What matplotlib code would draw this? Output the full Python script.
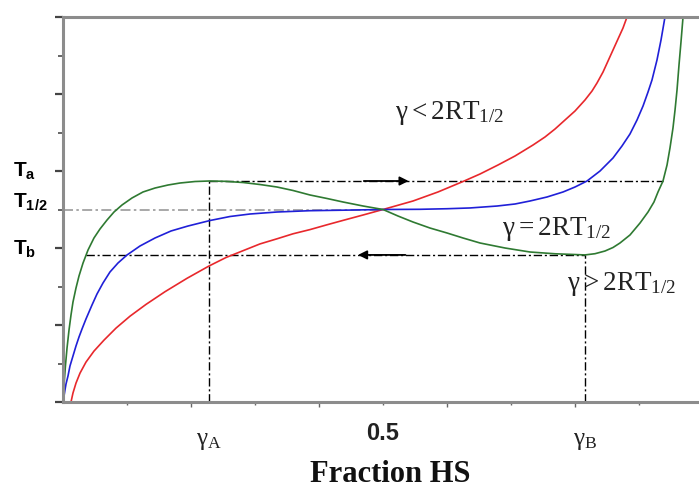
import numpy as np
import matplotlib.pyplot as plt

plt.rcParams['mathtext.fontset'] = 'custom'
plt.rcParams['mathtext.rm'] = 'Liberation Serif'
plt.rcParams['mathtext.it'] = 'Liberation Serif'
plt.rcParams['mathtext.sf'] = 'Liberation Sans:bold'

# fraction HS vs temperature (arbitrary units, T_1/2 = 5)
frac_red = [0.0125, 0.0156, 0.0203, 0.0266, 0.0359, 0.0484, 0.0641, 0.0828, 0.1047, 0.1297,
            0.1594, 0.1938, 0.2281, 0.2547, 0.2813, 0.3078, 0.3344, 0.3594, 0.3859, 0.4125,
            0.4375, 0.4688, 0.5, 0.5469, 0.5859, 0.625, 0.6516, 0.6797, 0.7063, 0.7344,
            0.7531, 0.7688, 0.7844, 0.8, 0.8156, 0.8266, 0.8344, 0.8438, 0.8516, 0.8594,
            0.8672, 0.875, 0.8813]
temp_red = [0.0, 0.234, 0.491, 0.751, 1.036, 1.322, 1.608, 1.919, 2.229, 2.535,
            2.865, 3.213, 3.532, 3.753, 3.93, 4.106, 4.239, 4.369, 4.478, 4.603,
            4.717, 4.857, 5.0, 5.221, 5.455, 5.727, 5.922, 6.156, 6.39, 6.675,
            6.883, 7.091, 7.325, 7.558, 7.844, 8.078, 8.286, 8.571, 8.857, 9.143,
            9.429, 9.714, 10.0]

frac_blue = [0.0, 0.0016, 0.0031, 0.0047, 0.0078, 0.0109, 0.0156, 0.0203, 0.025, 0.0297,
             0.0359, 0.0453, 0.0531, 0.0625, 0.0734, 0.0859, 0.1, 0.1203, 0.1438, 0.1688,
             0.1953, 0.2297, 0.2609, 0.2922, 0.3344, 0.3859, 0.4484, 0.5, 0.5578, 0.6,
             0.6359, 0.6781, 0.7063, 0.7297, 0.7563, 0.7813, 0.8, 0.8188, 0.8391, 0.8594,
             0.8734, 0.8859, 0.8969, 0.9063, 0.9141, 0.9203, 0.9281, 0.9344, 0.9406]
temp_blue = [0.0, 0.156, 0.312, 0.468, 0.675, 0.935, 1.195, 1.455, 1.688, 1.896,
             2.156, 2.519, 2.805, 3.091, 3.377, 3.61, 3.818, 4.052, 4.26, 4.442,
             4.571, 4.714, 4.818, 4.883, 4.935, 4.969, 4.985, 5.0, 5.005, 5.02,
             5.04, 5.09, 5.143, 5.221, 5.325, 5.455, 5.584, 5.74, 6.0, 6.338,
             6.649, 6.961, 7.325, 7.688, 8.052, 8.364, 8.883, 9.403, 10.0]

frac_green = [0.0, 0.0016, 0.0039, 0.0063, 0.0094, 0.0125, 0.0156, 0.0203, 0.025, 0.0313,
              0.0391, 0.0484, 0.0578, 0.0688, 0.0797, 0.0922, 0.1078, 0.125, 0.1438, 0.1641,
              0.1828, 0.2063, 0.2281, 0.2531, 0.2813, 0.3078, 0.3344, 0.3594, 0.3859, 0.4125,
              0.4375, 0.4688, 0.5, 0.5234, 0.5469, 0.5734, 0.6, 0.625, 0.6516, 0.6906,
              0.7297, 0.7688, 0.8156, 0.8313, 0.8469, 0.8594, 0.8703, 0.8859, 0.9016, 0.9141,
              0.9234, 0.9297, 0.9375, 0.9438, 0.9484, 0.9531, 0.9563, 0.9594, 0.9625, 0.9656,
              0.9688]
temp_green = [0.0, 0.442, 0.961, 1.403, 1.87, 2.26, 2.597, 2.961, 3.273, 3.61,
              3.948, 4.26, 4.494, 4.727, 4.935, 5.117, 5.299, 5.455, 5.558, 5.636,
              5.688, 5.727, 5.74, 5.732, 5.701, 5.649, 5.584, 5.494, 5.377, 5.286,
              5.195, 5.091, 5.0, 4.831, 4.675, 4.519, 4.39, 4.26, 4.13, 4.0,
              3.896, 3.85, 3.82, 3.852, 3.922, 4.013, 4.13, 4.338, 4.649, 4.935,
              5.195, 5.455, 5.74, 6.156, 6.597, 7.117, 7.584, 8.104, 8.753, 9.351,
              10.0]

gamma_A, gamma_B = 0.2281, 0.8156
T_half = 5.0
T_up, T_down = 5.74, 3.82        # heating / cooling switching temperatures
x_up_end, x_down_start = 0.9375, 0.036

curve_labels = [r'$\gamma < 2RT_{1/2}$', r'$\gamma = 2RT_{1/2}$', r'$\gamma > 2RT_{1/2}$']
curve_label_pos = [(0.519, 7.35), (0.686, 4.34), (0.7875, 2.91)]

ylab_text = [r'$\mathsf{T_{a}}$', r'$\mathsf{T_{1/2}}$', r'$\mathsf{T_{b}}$']
ylab_base = [5.84, 5.04, 3.82]

xlab_text = [r'$\gamma_{\rm A}$', '0.5', r'$\gamma_{\rm B}$']
xlab_pos = [gamma_A, 0.5, gamma_B]

fig = plt.figure(figsize=(6.99, 4.88), dpi=100)
ax = fig.add_axes([63/699, 86/488, 636/699, 385/488])
ax.set_xlim(0, 636/640)
ax.set_ylim(0, 10)

spine_col = '#8c8c8c'
for s in ['left', 'top', 'bottom']:
    ax.spines[s].set_color(spine_col)
    ax.spines[s].set_linewidth(2.2)
ax.spines['right'].set_visible(False)

ax.set_yticks([0, 2, 4, 6, 8, 10])
ax.set_yticks([1, 3, 5, 7, 9], minor=True)
ax.set_xticks([0.2, 0.4, 0.6, 0.8])
ax.set_xticks([0.1, 0.3, 0.5, 0.7, 0.9], minor=True)
ax.tick_params(axis='y', which='major', length=6, width=1.6, color='#444444', direction='out')
ax.tick_params(axis='y', which='minor', length=3.5, width=1.4, color='#666666', direction='out')
ax.tick_params(axis='x', which='major', length=3.5, width=1.0, color='#666666', direction='out')
ax.tick_params(axis='x', which='minor', length=2.0, width=1.0, color='#666666', direction='out')
ax.tick_params(labelleft=False, labelbottom=False)

dashdot = (0, (6, 2, 1.5, 2))
ax.plot([0, 0.5], [T_half, T_half], color='#9a9a9a', lw=1.2, ls=dashdot)
ax.plot([gamma_A, x_up_end], [T_up, T_up], color='k', lw=1.0, ls=dashdot)
ax.plot([x_down_start, gamma_B], [T_down, T_down], color='k', lw=1.0, ls=dashdot)
ax.plot([gamma_A, gamma_A], [0, T_up], color='k', lw=1.0, ls=dashdot, clip_on=False)
ax.plot([gamma_B, gamma_B], [0, T_down], color='k', lw=1.0, ls=dashdot, clip_on=False)

ax.plot(frac_red, temp_red, color='#e8282c', lw=1.2)
ax.plot(frac_blue, temp_blue, color='#2020d8', lw=1.2)
ax.plot(frac_green, temp_green, color='#2f7a32', lw=1.2)

# heating and cooling arrows
arrow = dict(arrowstyle='-|>', color='k', lw=1.3, mutation_scale=13, shrinkA=0, shrinkB=0)
ax.annotate('', xy=(0.54, T_up), xytext=(0.47, T_up), arrowprops=arrow)
ax.annotate('', xy=(0.461, T_down), xytext=(0.535, T_down), arrowprops=arrow)

for txt, (x, y) in zip(curve_labels, curve_label_pos):
    ax.text(x, y, txt, fontsize=19.5, ha='left', va='baseline', color='#222222')

ytr = ax.get_yaxis_transform()
for txt, y in zip(ylab_text, ylab_base):
    ax.text(-50/636, y, txt, transform=ytr, fontsize=15, ha='left', va='baseline', clip_on=False)

xtr = ax.get_xaxis_transform()
ax.text(xlab_pos[0], -38/385, xlab_text[0], transform=xtr, fontsize=18,
        ha='center', va='center', color='#222222')
ax.text(xlab_pos[1], -31/385, xlab_text[1], transform=xtr, fontsize=17, fontweight='bold',
        family='Liberation Sans', ha='center', va='center', color='#222222')
ax.text(xlab_pos[2], -38/385, xlab_text[2], transform=xtr, fontsize=18,
        ha='center', va='center', color='#222222')

fig.text(390/699, 1 - 475/488, 'Fraction HS', family='Liberation Serif', fontweight='bold',
         fontsize=22, ha='center', va='center', color='#111111')

fig.savefig('out.png', dpi=100)
